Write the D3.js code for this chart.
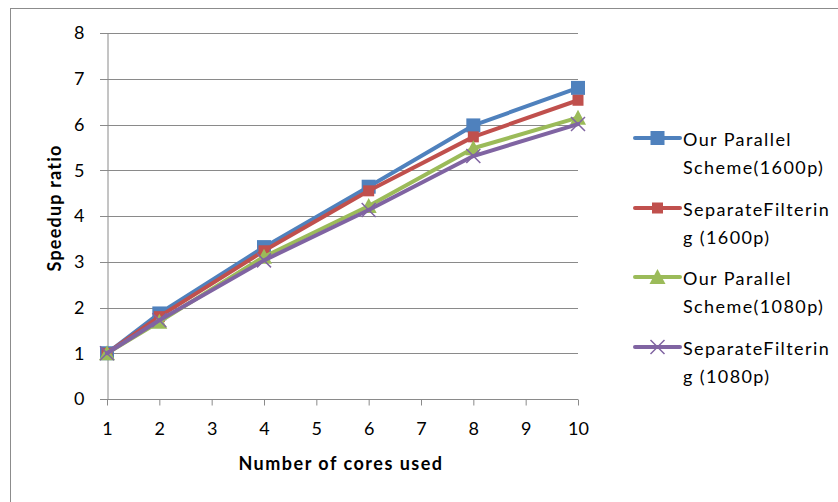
<!DOCTYPE html>
<html><head><meta charset="utf-8">
<script src="https://cdn.jsdelivr.net/npm/d3@7"></script>
<style>body{margin:0;background:#fff}svg{display:block}</style>
</head><body>
<svg id="c" width="838" height="502"></svg>
<script>
const cores = [1, 2, 4, 6, 8, 10];
const xTicks = [1, 2, 3, 4, 5, 6, 7, 8, 9, 10];
const yTicks = [0, 1, 2, 3, 4, 5, 6, 7, 8];
const seriesNames = [["Our Parallel", "Scheme(1600p)"], ["SeparateFilterin", "g (1600p)"], ["Our Parallel", "Scheme(1080p)"], ["SeparateFilterin", "g (1080p)"]];
const ourParallel1600 = [1, 1.87, 3.32, 4.64, 5.98, 6.80];
const separate1600 = [1, 1.80, 3.24, 4.55, 5.73, 6.53];
const ourParallel1080 = [1, 1.69, 3.11, 4.22, 5.48, 6.15];
const separate1080 = [1, 1.72, 3.03, 4.13, 5.31, 6.01];
const colors = ["#4F81BD", "#C0504D", "#9BBB59", "#8064A2"];
const markers = ["square", "smallsquare", "triangle", "x"];
const allSeries = [ourParallel1600, separate1600, ourParallel1080, separate1080];

const svg = d3.select("#c");
const font = "Lato, 'Open Sans', sans-serif";
svg.append("rect").attr("x", 10.5).attr("y", 8.5).attr("width", 900).attr("height", 600)
  .attr("fill", "none").attr("stroke", "#8c8c8c").attr("stroke-width", 1);

const x = d3.scaleLinear().domain([1, 10]).range([107, 578]);
const y = d3.scaleLinear().domain([0, 8]).range([399, 33]);
const grid = "#8a8a8a";

// gridlines
svg.append("g").selectAll("line").data(yTicks).join("line")
  .attr("x1", x(1) - 7).attr("x2", x(10))
  .attr("y1", d => Math.round(y(d)) + 0.5).attr("y2", d => Math.round(y(d)) + 0.5)
  .attr("stroke", grid).attr("stroke-width", 1);

// y axis
const yAxis = d3.axisLeft(y).tickValues(yTicks).tickSize(0).tickPadding(23);
const gy = svg.append("g").attr("transform", `translate(${Math.round(x(1)) + 0.5},0)`).call(yAxis);
gy.select(".domain").attr("stroke", grid);
gy.selectAll("text").attr("font-family", font).attr("font-size", 18).attr("fill", "#000");

// x axis
const xAxis = d3.axisBottom(x).tickValues(xTicks).tickSize(6).tickPadding(17);
const gx = svg.append("g").attr("transform", `translate(0,${Math.round(y(0)) + 0.5})`).call(xAxis);
gx.select(".domain").attr("stroke", grid).attr("d", `M${x(1)},0H${x(10)}`);
gx.selectAll(".tick line").attr("stroke", grid);
gx.selectAll("text").attr("font-family", font).attr("font-size", 18).attr("fill", "#000");

// axis titles
svg.append("text").attr("x", 341).attr("y", 470).attr("text-anchor", "middle")
  .attr("font-family", font).attr("font-size", 18).attr("font-weight", "bold")
  .attr("letter-spacing", 1.5).text("Number of cores used");
svg.append("text").attr("transform", "translate(61,208) rotate(-90)").attr("text-anchor", "middle")
  .attr("font-family", font).attr("font-size", 18).attr("font-weight", "bold")
  .attr("letter-spacing", 1.2).text("Speedup ratio");

function drawMarker(g, type, color, cx, cy) {
  if (type === "square") {
    g.append("rect").attr("x", cx - 7).attr("y", cy - 7).attr("width", 14).attr("height", 14).attr("fill", color);
  } else if (type === "smallsquare") {
    g.append("rect").attr("x", cx - 5.5).attr("y", cy - 5.5).attr("width", 11).attr("height", 11).attr("fill", color);
  } else if (type === "triangle") {
    g.append("path").attr("d", `M${cx},${cy - 8}L${cx + 8},${cy + 7}L${cx - 8},${cy + 7}Z`).attr("fill", color);
  } else {
    g.append("path").attr("d", `M${cx - 7},${cy - 7}L${cx + 7},${cy + 7}M${cx - 7},${cy + 7}L${cx + 7},${cy - 7}`)
      .attr("stroke", color).attr("stroke-width", 1.5);
  }
}

const line = d3.line().x((d, i) => x(cores[i])).y(d => y(d));
allSeries.forEach((vals, s) => {
  const g = svg.append("g");
  g.append("path").attr("d", line(vals)).attr("fill", "none").attr("stroke", colors[s])
    .attr("stroke-width", 4).attr("stroke-linejoin", "round").attr("stroke-linecap", "round");
  vals.forEach((v, i) => drawMarker(g, markers[s], colors[s], x(cores[i]), y(v)));
});

// legend
const legY = [138, 208, 277, 347];
seriesNames.forEach((nm, s) => {
  const g = svg.append("g");
  const ly = legY[s];
  g.append("line").attr("x1", 635).attr("x2", 680).attr("y1", ly).attr("y2", ly)
    .attr("stroke", colors[s]).attr("stroke-width", 4).attr("stroke-linecap", "round");
  drawMarker(g, markers[s], colors[s], 657.5, ly);
  nm.forEach((t, k) => {
    g.append("text").attr("x", 683).attr("y", ly + 8 + k * 28).attr("font-family", font)
      .attr("font-size", 18).attr("letter-spacing", 1.4).attr("fill", "#000").text(t);
  });
});
</script>
</body></html>
